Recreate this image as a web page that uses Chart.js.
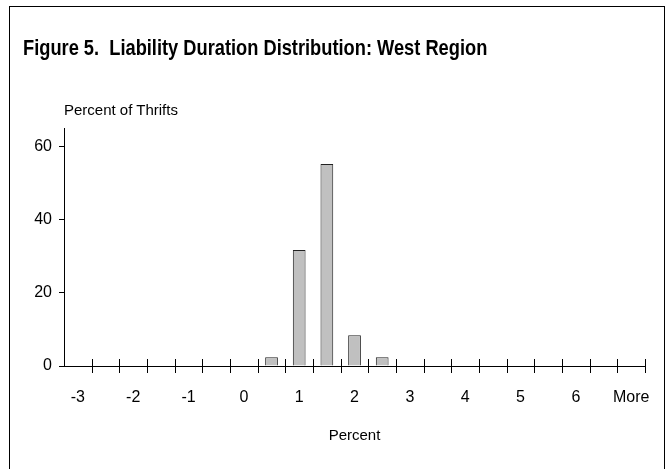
<!DOCTYPE html>
<html>
<head>
<meta charset="utf-8">
<script src="https://cdn.jsdelivr.net/npm/chart.js@4.4.1/dist/chart.umd.min.js"></script>
<style>
  html, body { margin: 0; padding: 0; background: #fff; overflow: hidden; }
  #wrap { position: relative; width: 672px; height: 469px; }
  #frame { position: absolute; left: 9px; top: 6px; width: 656px; height: 520px;
           border: 1px solid #000; box-sizing: border-box; pointer-events: none; }
  #title { position: absolute; left: 23px; top: 35px; font: bold 22px "Liberation Sans Narrow", "Arial Narrow", "Liberation Sans", sans-serif;
           color: #000; white-space: pre; transform: scaleX(0.83); transform-origin: 0 0; }
  #ycap { position: absolute; left: 64px; top: 101px; font: 15px "Liberation Sans", Arial, sans-serif;
          color: #000; white-space: pre; }
</style>
</head>
<body>
<div id="wrap">
  <canvas id="c" width="672" height="469"></canvas>
  <div id="frame"></div>
  <div id="title">Figure 5.  Liability Duration Distribution: West Region</div>
  <div id="ycap">Percent of Thrifts</div>
</div>
<script>
// Histogram bins (upper bin edges, percent) and the share of thrifts in each
const categories = ['-3', '-2.5', '-2', '-1.5', '-1', '-0.5', '0', '0.5', '1', '1.5',
                    '2', '2.5', '3', '3.5', '4', '4.5', '5', '5.5', '6', '6.5', 'More'];
const percentOfThrifts = [0, 0, 0, 0, 0, 0, 0, 2.4, 31.7, 55.2, 8.4, 2.4, 0,
                          0, 0, 0, 0, 0, 0, 0, 0];
const yTickValues = [0, 20, 40, 60];
const yMax = 65;

const FONT = '"Liberation Sans", Arial, sans-serif';

// Short tick marks that cross the category axis at each bin boundary
const crossTicks = {
  id: 'crossTicks',
  afterDatasetsDraw(chart) {
    const x = chart.scales.x, y = chart.scales.y;
    const ctx = chart.ctx;
    const base = y.getPixelForValue(0);
    ctx.save();
    ctx.strokeStyle = '#000';
    ctx.lineWidth = 1;
    ctx.beginPath();
    for (let i = 1; i <= categories.length; i++) {
      const px = Math.round(x.getPixelForValue(i - 0.5)) + 0.5;
      ctx.moveTo(px, base - 7);
      ctx.lineTo(px, base + 7);
    }
    ctx.stroke();
    ctx.restore();
  }
};

new Chart(document.getElementById('c'), {
  type: 'bar',
  data: {
    labels: categories,
    datasets: [{
      data: percentOfThrifts,
      backgroundColor: '#c0c0c0',
      borderColor: '#222',
      borderWidth: 1,
      barPercentage: 0.46,
      categoryPercentage: 1
    }]
  },
  options: {
    responsive: false,
    animation: false,
    devicePixelRatio: 1,
    layout: { padding: { left: 0, top: 128, right: 23, bottom: 20 } },
    plugins: { legend: { display: false }, tooltip: { enabled: false } },
    scales: {
      x: {
        offset: true,
        grid: { display: false, drawTicks: false },
        border: { display: true, color: '#000', width: 1 },
        ticks: {
          autoSkip: false,
          maxRotation: 0,
          padding: 22,
          color: '#000',
          font: { family: FONT, size: 16 },
          callback: (v, i) => (i % 2 === 0 ? categories[i] : '')
        },
        title: {
          display: true,
          text: 'Percent',
          color: '#000',
          font: { family: FONT, size: 15 },
          padding: { top: 8 }
        },
        afterFit(scale) { scale.height = 83; }
      },
      y: {
        min: 0,
        max: yMax,
        grid: { display: true, drawOnChartArea: false, drawTicks: true, tickLength: 5, color: '#000' },
        border: { display: true, color: '#000', width: 1 },
        ticks: {
          padding: 7,
          color: '#000',
          font: { family: FONT, size: 16 }
        },
        afterBuildTicks(scale) { scale.ticks = yTickValues.map(v => ({ value: v })); },
        afterFit(scale) { scale.width = 64; }
      }
    }
  },
  plugins: [crossTicks]
});
</script>
</body>
</html>
